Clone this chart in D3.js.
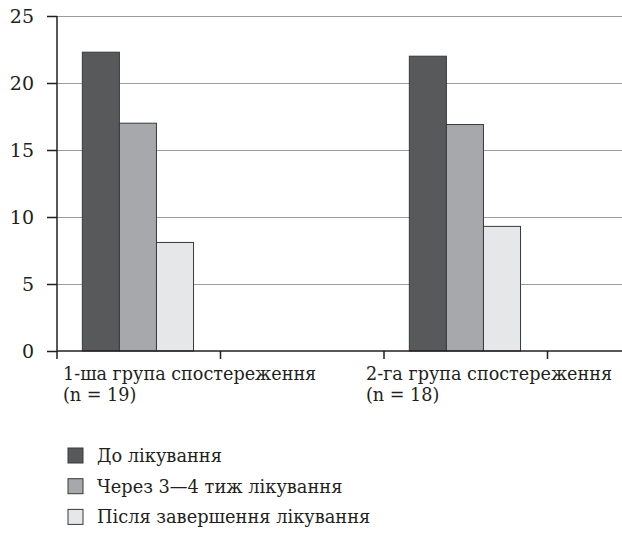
<!DOCTYPE html>
<html>
<head>
<meta charset="utf-8">
<script src="https://cdn.jsdelivr.net/npm/d3@7"></script>
<style>
  body { margin: 0; background: #fff; }
  text { font-family: "DejaVu Serif", serif; fill: #231f20; }
</style>
</head>
<body>
<div id="wrapper"></div>
<script>
const groups = ["g1", "gap1", "g2", "gap2"];
const groupLabels = [
    ["1-ша група спостереження", "(n = 19)"],
    ["2-га група спостереження", "(n = 18)"],
];
const series = ["До лікування", "Через 3—4 тиж лікування", "Після завершення лікування"];
const beforeValues = [22.3, 22.0];
const weeksValues = [17.0, 16.9];
const afterValues = [8.1, 9.3];
const yTicks = [0, 5, 10, 15, 20, 25];
const colors = ["#58595b", "#a7a8ab", "#e6e7e8"];

const dimensions = {
    width: 622,
    height: 536,
    margin: { top: 16, left: 57 },
    plotBottom: 351,
    bandWidth: 163.5,
}

const data = [0, 1].map(i => ({
    group: groups[i * 2],
    values: [beforeValues[i], weeksValues[i], afterValues[i]],
}));

const wrapper = d3.select("#wrapper")
    .append("svg")
    .attr("width", dimensions.width)
    .attr("height", dimensions.height);

const xScale = d3.scaleBand()
    .domain(groups)
    .range([dimensions.margin.left, dimensions.margin.left + dimensions.bandWidth * groups.length]);

const x1 = d3.scaleBand()
    .domain(series)
    .range([xScale.bandwidth() * 0.155, xScale.bandwidth() * 0.835]);

const yScale = d3.scaleLinear()
    .domain([0, 25])
    .range([dimensions.plotBottom, dimensions.margin.top]);

// gridlines
wrapper.append("g")
    .selectAll("line")
    .data(yTicks.filter(d => d > 0))
    .join("line")
    .attr("x1", dimensions.margin.left)
    .attr("x2", dimensions.width)
    .attr("y1", d => Math.round(yScale(d)) + 0.5)
    .attr("y2", d => Math.round(yScale(d)) + 0.5)
    .attr("stroke", "#9a9b9d")
    .attr("stroke-width", 1.2);

// bars
const barGroups = wrapper.append("g")
    .selectAll("g")
    .data(data)
    .join("g")
    .attr("transform", d => `translate(${xScale(d.group)},0)`);

barGroups.selectAll("rect")
    .data(d => d.values.map((v, i) => ({ key: series[i], value: v, i })))
    .join("rect")
    .attr("x", d => x1(d.key))
    .attr("y", d => yScale(d.value))
    .attr("width", x1.bandwidth())
    .attr("height", d => yScale(0) - yScale(d.value))
    .attr("fill", d => colors[d.i])
    .attr("stroke", "#3a3a3c")
    .attr("stroke-width", 1);

// y axis
const yAxis = wrapper.append("g")
    .attr("transform", `translate(${dimensions.margin.left},0)`)
    .call(d3.axisLeft(yScale).tickValues(yTicks).tickSize(10).tickPadding(13));
yAxis.attr("font-family", null);
yAxis.select(".domain").attr("stroke", "#231f20").attr("stroke-width", 1.5)
    .attr("d", `M0,${dimensions.plotBottom + 8}V${dimensions.margin.top}`);
yAxis.selectAll(".tick line").attr("stroke", "#231f20").attr("stroke-width", 1.5);
yAxis.selectAll(".tick text")
    .style("font-size", "19px")
    .attr("dy", "0.36em");

// x axis
const xAxis = wrapper.append("g")
    .attr("transform", `translate(0,${dimensions.plotBottom})`);
xAxis.append("line")
    .attr("x1", dimensions.margin.left)
    .attr("x2", dimensions.width)
    .attr("stroke", "#231f20")
    .attr("stroke-width", 1.5);
xAxis.selectAll(".xtick")
    .data(groups.slice(1).map(g => xScale(g)).concat([xScale(groups[3]) + xScale.bandwidth()]))
    .join("line")
    .attr("class", "xtick")
    .attr("x1", d => d)
    .attr("x2", d => d)
    .attr("y1", 0)
    .attr("y2", 8)
    .attr("stroke", "#231f20")
    .attr("stroke-width", 1.5);

const labelOffsets = [6, -18];
xAxis.selectAll(".xlabel")
    .data(groupLabels)
    .join("text")
    .attr("class", "xlabel")
    .attr("transform", (d, i) => `translate(${xScale(data[i].group) + labelOffsets[i]},29)`)
    .style("font-size", "17.6px")
    .selectAll("tspan")
    .data(d => d)
    .join("tspan")
    .attr("x", 0)
    .attr("y", (d, i) => i * 21)
    .text(d => d);

// legend
const legend = wrapper.append("g")
    .attr("transform", "translate(68,448)")
    .selectAll("g")
    .data(series)
    .join("g")
    .attr("transform", (d, i) => `translate(0,${i * 30.7})`);
legend.append("rect")
    .attr("width", 15)
    .attr("height", 15)
    .attr("fill", (d, i) => colors[i])
    .attr("stroke", "#3a3a3c");
legend.append("text")
    .attr("x", 29)
    .attr("y", 14)
    .style("font-size", "17.8px")
    .text(d => d);
</script>
</body>
</html>
